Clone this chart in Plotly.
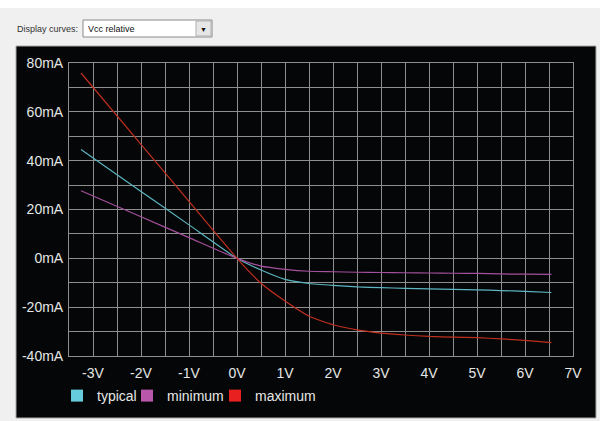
import plotly.graph_objects as go

# Data
voltage_v = [-3.25, -2, -1, 0, 0.5, 1, 1.5, 2, 2.5, 3, 3.5, 4, 4.5, 5, 5.5, 6, 6.55]
typical_ma = [44.6, 27.4, 13.7, 0, -4.8, -8.6, -10.3, -11.1, -11.7, -12.0, -12.3, -12.5, -12.7, -12.9, -13.2, -13.5, -14.0]
minimum_ma = [27.7, 17.0, 8.5, 0, -3.2, -4.5, -5.3, -5.5, -5.7, -5.8, -5.9, -6.0, -6.1, -6.2, -6.4, -6.5, -6.6]
maximum_ma = [75.9, 46.7, 23.3, 0, -10.2, -17.5, -23.7, -27.2, -29.3, -30.6, -31.4, -32.0, -32.3, -32.5, -33.0, -33.6, -34.5]

series_names = ["typical", "minimum", "maximum"]
series_values = [typical_ma, minimum_ma, maximum_ma]
line_colors = ["#5db6c2", "#a5509e", "#c0301f"]
legend_colors = ["#66cbdc", "#b957ab", "#e8201f"]

x_tick_vals = [-3, -2, -1, 0, 1, 2, 3, 4, 5, 6, 7]
x_tick_text = ["-3V", "-2V", "-1V", "0V", "1V", "2V", "3V", "4V", "5V", "6V", "7V"]
y_tick_vals = [-40, -20, 0, 20, 40, 60, 80]
y_tick_text = ["-40mA", "-20mA", "0mA", "20mA", "40mA", "60mA", "80mA"]

FONT = "Liberation Sans, Arial, sans-serif"
GRID = "#8e8e8e"

W, H = 600, 421
ml, mr, mt, mb = 69, 27, 63, 65
pw, ph = W - ml - mr, H - mt - mb

legend_ids = ["legend", "legend2", "legend3"]
legend_square_x = [77, 147, 235]   # desired square centres (px)

fig = go.Figure()
for name, vals, lc in zip(series_names, series_values, line_colors):
    fig.add_trace(go.Scatter(x=voltage_v, y=vals, mode="lines", name=name,
                             line=dict(color=lc, width=1.2, shape="spline", smoothing=0.5),
                             showlegend=False, hoverinfo="x+y+name"))
for name, lgc, lid in zip(series_names, legend_colors, legend_ids):
    fig.add_trace(go.Scatter(x=[None], y=[None], mode="markers", name=name, legend=lid,
                             marker=dict(symbol="square", size=12, color=lgc,
                                         line=dict(width=0))))


def px_x(p):
    return (p - ml) / pw


def px_y(p):
    return (H - mb - p) / ph


shapes = [
    dict(type="rect", xref="paper", yref="paper", x0=px_x(0), x1=px_x(W),
         y0=px_y(8), y1=px_y(0), fillcolor="#ffffff", line=dict(width=0), layer="below"),
    dict(type="rect", xref="paper", yref="paper", x0=px_x(16), x1=px_x(596),
         y0=px_y(418), y1=px_y(46), fillcolor="#040607",
         line=dict(color="#a8a8a8", width=1), layer="below"),
    dict(type="rect", xref="paper", yref="paper", x0=px_x(83), x1=px_x(212),
         y0=px_y(37), y1=px_y(20), fillcolor="#ffffff",
         line=dict(color="#8a8a8a", width=1), layer="below"),
    dict(type="rect", xref="paper", yref="paper", x0=px_x(196), x1=px_x(211),
         y0=px_y(36), y1=px_y(21), fillcolor="#e6e6e6",
         line=dict(color="#b0b0b0", width=1), layer="below"),
]

annotations = [
    dict(text="Display curves:", xref="paper", yref="paper", x=px_x(15), y=px_y(29),
         xanchor="left", yanchor="middle", showarrow=False,
         font=dict(family=FONT, size=9, color="#333333")),
    dict(text="Vcc relative", xref="paper", yref="paper", x=px_x(86), y=px_y(29),
         xanchor="left", yanchor="middle", showarrow=False,
         font=dict(family=FONT, size=9, color="#111111")),
    dict(text="▼", xref="paper", yref="paper", x=px_x(203.5), y=px_y(29),
         xanchor="center", yanchor="middle", showarrow=False,
         font=dict(family=FONT, size=7, color="#111111")),
]

layout_legends = {}
for lid, sx in zip(legend_ids, legend_square_x):
    layout_legends[lid] = dict(
        orientation="h", xref="container", yref="container",
        x=(sx - 20) / W, y=1 - 396 / H, xanchor="left", yanchor="middle",
        bgcolor="rgba(0,0,0,0)", borderwidth=0,
        font=dict(family=FONT, size=14, color="#e6e6e6"))

fig.update_layout(
    width=W, height=H,
    margin=dict(l=ml, r=mr, t=mt, b=mb, pad=0, autoexpand=False),
    paper_bgcolor="#f0f0f0",
    plot_bgcolor="#040607",
    font=dict(family=FONT, size=14, color="#e6e6e6"),
    shapes=shapes,
    annotations=annotations,
    showlegend=True,
    xaxis=dict(range=[-3.5, 7], tickvals=x_tick_vals, ticktext=x_tick_text,
               showgrid=True, gridcolor=GRID, gridwidth=1, automargin=False,
               minor=dict(dtick=0.5, tick0=0, showgrid=True, gridcolor=GRID, gridwidth=1),
               zeroline=False, showline=True, linecolor=GRID, mirror=True,
               ticks="", ticklabelstandoff=4, fixedrange=True),
    yaxis=dict(range=[-40, 80], tickvals=y_tick_vals, ticktext=y_tick_text,
               showgrid=True, gridcolor=GRID, gridwidth=1, automargin=False,
               minor=dict(dtick=10, tick0=0, showgrid=True, gridcolor=GRID, gridwidth=1),
               zeroline=False, showline=True, linecolor=GRID, mirror=True,
               ticks="", ticklabelstandoff=2, fixedrange=True),
    **layout_legends,
)

fig.write_html("out.html", config={"displayModeBar": False},
               post_script="document.body.style.margin='0';document.body.style.padding='0';")
